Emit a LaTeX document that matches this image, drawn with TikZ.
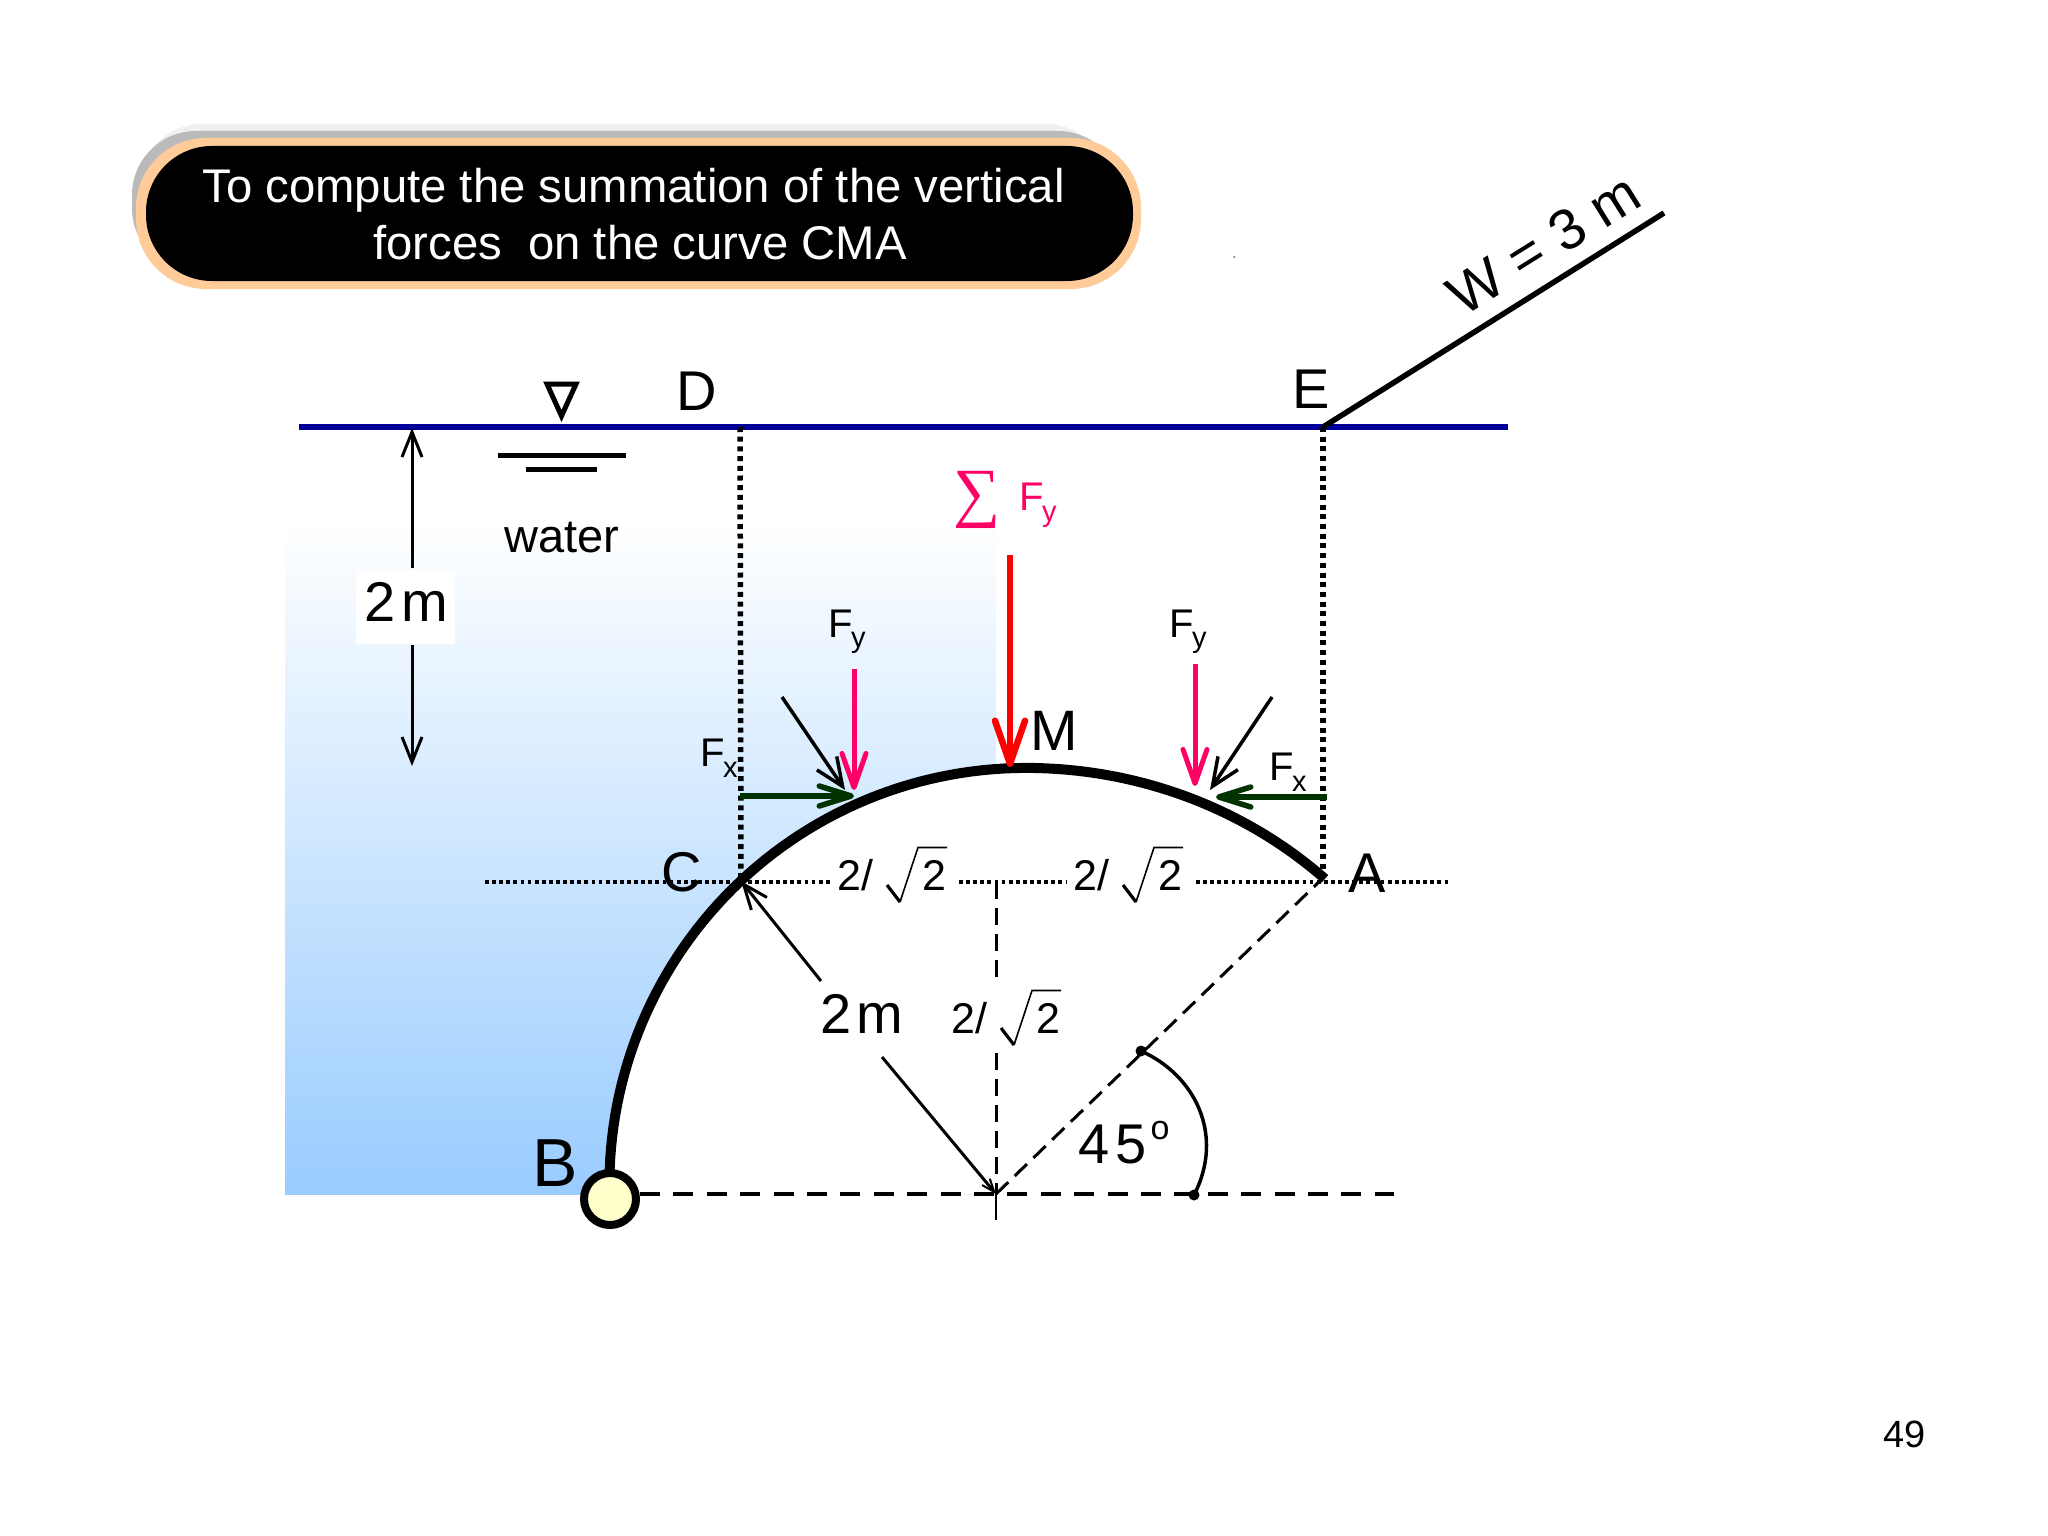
\documentclass[tikz,border=0pt]{standalone}
\usepackage{fontspec}
\setmainfont{Liberation Sans}
\newfontfamily\serifsym{Liberation Serif}
\usetikzlibrary{arrows.meta}
\definecolor{pinkf}{HTML}{FF0066}
\definecolor{greenf}{HTML}{003300}
\definecolor{waterblue}{HTML}{99CCFF}
\definecolor{surface}{HTML}{000099}
\definecolor{peach}{HTML}{FFCC99}
\definecolor{hinge}{HTML}{FFFFCC}
\newcommand\fsz[1]{\fontsize{#1pt}{#1pt}\selectfont}
\tikzset{
  lab/.style={inner sep=0pt,anchor=base west,text=black},
  big/.style={lab,font=\fsz{56}},
  sm/.style={lab,font=\fsz{40}},
  sub/.style={lab,font=\fsz{29}},
  rootl/.style={lab,font=\fsz{43}},
  dots/.style={line width=5.5pt,dash pattern=on 5pt off 4.7pt},
  hdots/.style={line width=4pt,dash pattern=on 3.8pt off 3.3pt},
  dashv/.style={line width=3pt,dash pattern=on 17pt off 9pt},
  dashh/.style={line width=4pt,dash pattern=on 20pt off 13.4pt},
  thinarrow/.style={line width=3pt,-{Straight Barb[length=25pt,width=20pt,line width=3pt]}},
  tinyarrow/.style={line width=3pt,-{Straight Barb[length=13pt,width=10pt,line width=2pt]}},
  diagarrow/.style={line width=3.5pt,-{Straight Barb[length=28pt,width=24pt,line width=3.5pt]}},
  pinkarrow/.style={line width=5pt,draw=pinkf,-{Straight Barb[length=34pt,width=24pt,line width=5pt,round]}},
  redarrow/.style={line width=6.5pt,draw=red,-{Straight Barb[length=43pt,width=30pt,line width=6.5pt,round]}},
  greenarrow/.style={line width=5.5pt,draw=greenf,-{Straight Barb[length=32pt,width=20pt,line width=5.5pt,round]}},
}
% 2/sqrt(2) label: name, left x, baseline y
\newcommand\rootlab[3]{%
  \node[rootl] (#1a) at (#2,#3) {2/};
  \node[rootl] (#1b) at (#2+85,#3) {2};
  \draw[line width=3.2pt] (#2+50,#3-5) -- (#2+63,#3+12);
  \draw[line width=1.6pt,line join=miter] (#2+63,#3+12) -- (#2+81,#3-42.5) -- (#2+110,#3-42.5);
}
\begin{document}
\begin{tikzpicture}[x=1pt,y=-1pt]
\useasboundingbox (0,0) rectangle (2048,1536);
\fill[white] (0,0) rectangle (2048,1536);
% water
\shade[top color=white,bottom color=waterblue] (285,520) rectangle (996,1194);
\fill[white] (356,570) rectangle (455,644);
% named points
\coordinate (O) at (996,1194);
\coordinate (PA) at (1323,878);
\coordinate (PC) at (741,881);
\coordinate (PB) at (610,1199);
\coordinate (PD) at (740,427);
\coordinate (PE) at (1323,427);
% arc interior
\fill[white] plot[domain=178:90,samples=60] ({1026+416.6*cos(\x)},{1184.5-416.6*sin(\x)}) -- (1026,1194) -- (610,1199) -- cycle;
% pill
\fill[black!6,rounded corners=62pt] (140,124) rectangle (1108,270);
\fill[black!27,rounded corners=64pt] (132,131) rectangle (1122,272);
\fill[peach,rounded corners=70pt] (136,138) rectangle (1141,289);
\fill[black,rounded corners=66pt] (146,146) rectangle (1133,281);
\node[lab,anchor=base,text=white,font=\fsz{47.3}] (t1) at (633.5,202) {To compute the summation of the vertical};
\node[lab,anchor=base,text=white,font=\fsz{47.3}] (t2) at (640,259) {forces\ \ on the curve CMA};
\fill[black!60] (1234,257) circle (1pt);
% water surface and lines
\draw[line width=5.5pt,surface] (299,427) -- (1508,427);
\draw[line width=5.5pt] (PE) -- (1664,213);
\node[lab,anchor=center,font=\fsz{57},rotate=32] (W) at (1544,244) {W = 3 m};
\draw[dots] (PD) -- (PC);
\draw[dots] (PE) -- (PA);
\draw[hdots] (485,882) -- (830,882);
\draw[hdots] (959,882) -- (1066,882);
\draw[hdots] (1196,882) -- (1451,882);
% surface symbol
\draw[line width=5pt,line join=miter,miter limit=10] (547,384) -- (576,384) -- (561.5,416) -- cycle;
\draw[line width=5pt] (498,455) -- (626,455);
\draw[line width=5pt] (526,469) -- (597,469);
\node[lab,anchor=base,font=\fsz{47}] (water) at (562,552) {water};
% depth
\node[big] (dtwo) at (364,621) {2\kern6pt m};
\coordinate (d1) at (412,568);
\coordinate (d2) at (412,645);
\draw[thinarrow] (d1) -- (412,428);
\draw[thinarrow] (d2) -- (412,766);
% dashed construction
\draw[dashh] (640,1194) -- (1394,1194);
\draw[dashv] (996,882) -- (996,982);
\draw[dashv] (996,1053) -- (O);
\draw[line width=1.5pt] (O) -- (996,1220);
\draw[line width=3pt,dash pattern=on 17pt off 9pt] (O) -- (PA);
% angle
\fill (1141,1051) circle (5.5pt);
\fill (1194,1195) circle (5.5pt);
\draw[line width=3.5pt] (1141,1051) .. controls (1195,1075) and (1225,1135) .. (1194,1195);
% radius
\coordinate (r1) at (821,981);
\coordinate (r2) at (882,1057);
\draw[thinarrow] (r1) -- (PC);
\draw[tinyarrow] (r2) -- (O);
% curve
\draw[line width=10pt,line join=round] (610,1199) -- plot[domain=178:90,samples=60] ({1026+416.6*cos(\x)},{1184.5-416.6*sin(\x)}) -- plot[domain=90:47.2,samples=40] ({1026+440*cos(\x)},{1184.5-416.6*sin(\x)});
\node[circle,draw=black,line width=8pt,fill=hinge,minimum size=52pt,inner sep=0pt] (hinge) at (PB) {};
% forces
\draw[redarrow] (1010,555) -- (1010,767);
\draw[pinkarrow] (854,669) -- (854,790);
\draw[pinkarrow] (1195,664) -- (1195,786);
\draw[diagarrow] (782,697) -- (845,790);
\draw[diagarrow] (1272,697) -- (1210,790);
\draw[greenarrow] (740,796) -- (854,796);
\draw[greenarrow] (1327,797) -- (1216,797);
% labels
\node[big] (D) at (676,410) {D};
\node[big] (E) at (1292,408) {E};
\node[big,font=\fsz{57}] (M) at (1030,750) {M};
\node[big] (A) at (1348,892) {A};
\node[big] (C) at (661,891) {C};
\node[big,font=\fsz{68}] (B) at (532,1186) {B};
\node[sm] (fx1) at (700,766) {F};
\node[sub] (fx1s) at (723,777) {x};
\node[sm] (fx2) at (1269,780) {F};
\node[sub] (fx2s) at (1292,791) {x};
\node[sm] (fy1) at (828,637) {F};
\node[sub] (fy1s) at (851,647) {y};
\node[sm] (fy2) at (1169,637) {F};
\node[sub] (fy2s) at (1192,647) {y};
\node[sm,text=pinkf] (fy3) at (1019,510) {F};
\node[sub,text=pinkf] (fy3s) at (1042,521) {y};
\node[lab,text=pinkf,font=\serifsym\fsz{66}] (sum) at (953,514) {∑};
\rootlab{ra}{837}{890}
\rootlab{rb}{1073}{890}
\rootlab{rc}{951}{1033}
\node[big] (rtwo) at (820,1033) {2\kern5pt m};
\node[big] (ang) at (1078,1163) {4\kern6pt 5\kern4pt\raisebox{24pt}{\fsz{34}o}};
\node[lab,font=\fsz{38}] (pg) at (1883,1447) {49};
\end{tikzpicture}
\end{document}
